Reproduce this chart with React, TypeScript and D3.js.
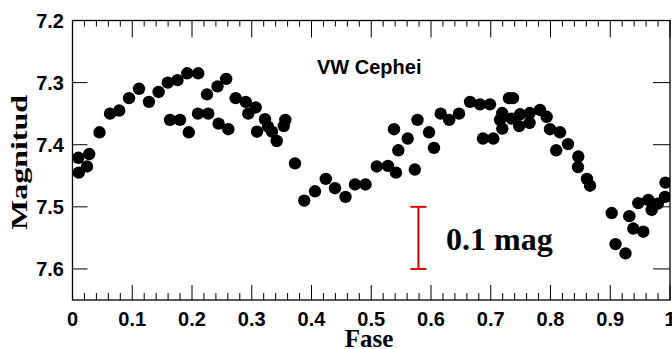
import React from "react";
import * as d3 from "d3";

const phase = [
  0.0097, 0.0105, 0.028, 0.0243, 0.0452, 0.0628, 0.0782, 0.0946, 0.1113, 0.128,
  0.1441, 0.1595, 0.1757, 0.192, 0.2104, 0.1632, 0.1799, 0.1946, 0.21, 0.2273,
  0.2251, 0.2427, 0.2572, 0.2445, 0.2608, 0.2731, 0.2899, 0.2942, 0.3066, 0.3088,
  0.3222, 0.3272, 0.3339, 0.3418, 0.3562, 0.3536, 0.3724, 0.3879, 0.4059, 0.4239,
  0.4393, 0.4569, 0.4728, 0.4904, 0.5093, 0.528, 0.5414, 0.5729, 0.5453, 0.561,
  0.5381, 0.5774, 0.5967, 0.605, 0.6162, 0.6305, 0.6469, 0.6653, 0.682, 0.6987,
  0.7305, 0.7372, 0.687, 0.7043, 0.7192, 0.7155, 0.7193, 0.7351, 0.749, 0.7476,
  0.7652, 0.7649, 0.7824, 0.7936, 0.7992, 0.8159, 0.8095, 0.8293, 0.8465, 0.846,
  0.8611, 0.8661, 0.9024, 0.9319, 0.9088, 0.9255, 0.9386, 0.9553, 0.9469, 0.9637,
  0.9694, 0.9796, 0.9916, 0.9925,
];

const magnitude = [
  7.421, 7.445, 7.415, 7.435, 7.38, 7.35, 7.345, 7.325, 7.31, 7.331,
  7.315, 7.3, 7.296, 7.285, 7.285, 7.36, 7.36, 7.38, 7.35, 7.35,
  7.319, 7.306, 7.294, 7.366, 7.375, 7.325, 7.331, 7.35, 7.34, 7.379,
  7.359, 7.371, 7.379, 7.394, 7.36, 7.37, 7.43, 7.49, 7.475, 7.455,
  7.47, 7.484, 7.464, 7.464, 7.435, 7.434, 7.445, 7.44, 7.409, 7.39,
  7.375, 7.36, 7.38, 7.405, 7.35, 7.36, 7.35, 7.331, 7.335, 7.335,
  7.325, 7.325, 7.39, 7.39, 7.349, 7.36, 7.374, 7.358, 7.351, 7.37,
  7.349, 7.365, 7.344, 7.355, 7.375, 7.38, 7.409, 7.399, 7.419, 7.436,
  7.455, 7.466, 7.51, 7.515, 7.56, 7.575, 7.535, 7.54, 7.494, 7.489,
  7.505, 7.495, 7.484, 7.461,
];

const xTicks = [0, 0.1, 0.2, 0.3, 0.4, 0.5, 0.6, 0.7, 0.8, 0.9, 1];
const xTickLabels = ["0", "0.1", "0.2", "0.3", "0.4", "0.5", "0.6", "0.7", "0.8", "0.9", "1"];
const yTicks = [7.2, 7.3, 7.4, 7.5, 7.6];
const yTickLabels = ["7.2", "7.3", "7.4", "7.5", "7.6"];
const xDomain = [0, 1];
const yDomain = [7.2, 7.65];
const errorBarPhase = 0.579;
const errorBarRange = [7.5, 7.6];
const title = "VW Cephei";
const errorLabel = "0.1 mag";
const xTitle = "Fase";
const yTitle = "Magnitud";

const W = 672;
const H = 349;
const L = 72.5;
const R = 670;
const T = 20.5;
const B = 300;

export default function App() {
  const x = d3.scaleLinear().domain(xDomain).range([L, R]);
  const y = d3.scaleLinear().domain(yDomain).range([T, B]);
  const minor = d3.range(0, 51).map((i) => i / 50).filter((v) => Math.round(v * 50) % 5 !== 0);
  const sans = "'Liberation Sans', Arial, sans-serif";
  const serif = "'Liberation Serif', 'Times New Roman', serif";
  const pts = phase.map((p, i) => [p, magnitude[i]]);
  return (
    <svg
      width={W}
      height={H}
      style={{ position: "absolute", left: 0, top: 0, background: "#fff" }}
    >
      <defs>
        <clipPath id="plot">
          <rect x={L} y={T} width={R - L} height={B - T} />
        </clipPath>
      </defs>
      <rect x={0} y={0} width={W} height={H} fill="#fff" />
      {minor.map((v, i) => (
        <g key={"m" + i} stroke="#000" strokeWidth={1}>
          <line x1={x(v)} x2={x(v)} y1={B} y2={B - 7} />
          <line x1={x(v)} x2={x(v)} y1={T} y2={T + 6} />
        </g>
      ))}
      {xTicks.map((v, i) => (
        <g key={"x" + i}>
          <line x1={x(v)} x2={x(v)} y1={B} y2={B - 15} stroke="#000" strokeWidth={1} />
          <line x1={x(v)} x2={x(v)} y1={T} y2={T + 17} stroke="#000" strokeWidth={1} />
          <text
            x={x(v)}
            y={326}
            textAnchor="middle"
            fontFamily={sans}
            fontWeight="bold"
            fontSize={20}
            fill="#000"
          >
            {xTickLabels[i]}
          </text>
        </g>
      ))}
      {yTicks.map((v, i) => (
        <g key={"y" + i}>
          <line x1={L} x2={L + 15} y1={y(v)} y2={y(v)} stroke="#000" strokeWidth={1} />
          <line x1={R} x2={R - 17} y1={y(v)} y2={y(v)} stroke="#000" strokeWidth={1} />
          <text
            x={64}
            y={y(v) + 7}
            textAnchor="end"
            fontFamily={sans}
            fontWeight="bold"
            fontSize={20}
            fill="#000"
          >
            {yTickLabels[i]}
          </text>
        </g>
      ))}
      <rect x={L} y={T} width={R - L} height={B - T} fill="none" stroke="#000" strokeWidth={1.3} />
      <g clipPath="url(#plot)">
        {pts.map((d, i) => (
          <circle key={"p" + i} cx={x(d[0])} cy={y(d[1])} r={6.2} fill="#000" />
        ))}
      </g>
      <text x={317} y={74} fontFamily={sans} fontWeight="bold" fontSize={20} fill="#000">
        {title}
      </text>
      <g stroke="#e00000" strokeWidth={2}>
        <line
          x1={x(errorBarPhase)}
          x2={x(errorBarPhase)}
          y1={y(errorBarRange[0])}
          y2={y(errorBarRange[1])}
        />
        <line
          x1={x(errorBarPhase) - 8}
          x2={x(errorBarPhase) + 8}
          y1={y(errorBarRange[0])}
          y2={y(errorBarRange[0])}
        />
        <line
          x1={x(errorBarPhase) - 8}
          x2={x(errorBarPhase) + 8}
          y1={y(errorBarRange[1])}
          y2={y(errorBarRange[1])}
        />
      </g>
      <text x={446} y={250} fontFamily={serif} fontWeight="bold" fontSize={32} fill="#000">
        {errorLabel}
      </text>
      <text
        x={369}
        y={347}
        textAnchor="middle"
        fontFamily={serif}
        fontWeight="bold"
        fontSize={25}
        fill="#000"
      >
        {xTitle}
      </text>
      <text
        transform={`translate(27,162.5) rotate(-90)`}
        textAnchor="middle"
        fontFamily={serif}
        fontWeight="bold"
        fontSize={24}
        textLength={135}
        lengthAdjust="spacingAndGlyphs"
        fill="#000"
      >
        {yTitle}
      </text>
    </svg>
  );
}
